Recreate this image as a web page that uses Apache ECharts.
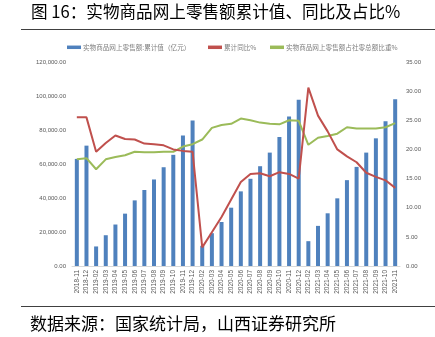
<!DOCTYPE html>
<html>
<head>
<meta charset="utf-8">
<script src="https://cdn.jsdelivr.net/npm/echarts@6/dist/echarts.min.js"></script>
<style>
html,body{margin:0;padding:0;background:#fff;}
#c{width:435px;height:337px;}
</style>
</head>
<body>
<div id="c"></div>
<script>
const categories = ['2018-11','2018-12','2019-02','2019-03','2019-04','2019-05','2019-06','2019-07','2019-08','2019-09','2019-10','2019-11','2019-12','2020-02','2020-03','2020-04','2020-05','2020-06','2020-07','2020-08','2020-09','2020-10','2020-11','2020-12','2021-02','2021-03','2021-04','2021-05','2021-06','2021-07','2021-08','2021-09','2021-10','2021-11'];
const cumulativeValue = [63000,70800,11500,18100,24400,30800,38600,44700,50900,58100,65400,76700,85600,11900,19300,25900,34300,43900,51300,58700,66700,75900,88000,97800,14600,23600,31000,39800,50500,58300,66700,75100,85100,98100];
const yoyGrowth = [25.5,25.5,19.6,21.1,22.4,21.8,21.7,21.0,20.9,20.7,20.0,19.75,19.6,3.2,5.8,8.4,11.4,14.4,15.8,15.9,15.4,16.1,15.8,15.0,30.6,25.8,23.1,20.0,18.8,17.8,16.0,15.3,14.7,13.4];
const shareOfRetail = [18.3,18.5,16.6,18.3,18.7,19.0,19.6,19.5,19.5,19.6,19.6,20.5,20.9,21.7,23.7,24.2,24.4,25.3,25.0,24.6,24.4,24.3,25.0,24.9,20.8,22.0,22.3,22.7,23.8,23.6,23.6,23.6,23.8,24.5];
const leftTicks = [0,20000,40000,60000,80000,100000,120000];
const rightTicks = [0,5,10,15,20,25,30,35];
const seriesNames = ['实物商品网上零售额:累计值（亿元）','累计同比%','实物商品网上零售额占社零总额比重%'];
const titleText = '图 16：实物商品网上零售额累计值、同比及占比%';
const sourceText = '数据来源：国家统计局，山西证券研究所';

const chart = echarts.init(document.getElementById('c'), null, {renderer:'canvas'});
const axisFont = {color:'#595959', fontSize:6, fontFamily:'Liberation Sans'};
const legendBase = {
  orient:'horizontal', top:39, itemWidth:14, itemHeight:3.5, itemGap:4,
  icon:'rect', selectedMode:false,
  textStyle:{color:'#7f7f7f', fontSize:6.6, fontFamily:'Noto Sans CJK SC', padding:[0,0,0,-3]}
};
chart.setOption({
  animation:false,
  backgroundColor:'#fff',
  graphic:[
    {type:'text', left:31, top:3, style:{text:titleText, fontSize:16.6, fontFamily:'Noto Sans CJK SC', fill:'#000'}},
    {type:'line', shape:{x1:21, y1:29.5, x2:435, y2:29.5}, style:{stroke:'#404040', lineWidth:1.2}},
    {type:'line', shape:{x1:21, y1:306.5, x2:435, y2:306.5}, style:{stroke:'#404040', lineWidth:1.2}},
    {type:'text', left:30, top:315, style:{text:sourceText, fontSize:17, fontFamily:'Noto Sans CJK SC', fill:'#000'}}
  ],
  legend:[
    Object.assign({}, legendBase, {left:62, data:[seriesNames[0]]}),
    Object.assign({}, legendBase, {left:203, data:[seriesNames[1]]}),
    Object.assign({}, legendBase, {left:265, data:[seriesNames[2]]})
  ],
  grid:{left:72, right:35, top:62, bottom:71, containLabel:false},
  xAxis:{
    type:'category', data:categories, boundaryGap:true,
    axisLine:{lineStyle:{color:'#D9D9D9'}},
    axisTick:{show:false},
    axisLabel:Object.assign({}, axisFont, {rotate:90, interval:0, fontSize:6.5, margin:4})
  },
  yAxis:[
    {type:'value', min:leftTicks[0], max:leftTicks[leftTicks.length-1], interval:leftTicks[1]-leftTicks[0],
     splitLine:{show:false}, axisLine:{show:false}, axisTick:{show:false},
     axisLabel:Object.assign({}, axisFont, {margin:6, formatter:v=>v.toLocaleString('en-US',{minimumFractionDigits:2, maximumFractionDigits:2})})},
    {type:'value', min:rightTicks[0], max:rightTicks[rightTicks.length-1], interval:rightTicks[1]-rightTicks[0],
     splitLine:{show:false}, axisLine:{show:false}, axisTick:{show:false},
     axisLabel:Object.assign({}, axisFont, {margin:6, formatter:v=>v.toFixed(2)})}
  ],
  series:[
    {name:seriesNames[0], type:'bar', data:cumulativeValue, barWidth:4, itemStyle:{color:'#4F81BD'}, z:1},
    {name:seriesNames[1], type:'line', yAxisIndex:1, data:yoyGrowth, symbol:'none', lineStyle:{color:'#C0504D', width:2}, itemStyle:{color:'#C0504D'}, z:3},
    {name:seriesNames[2], type:'line', yAxisIndex:1, data:shareOfRetail, symbol:'none', lineStyle:{color:'#9BBB59', width:2}, itemStyle:{color:'#9BBB59'}, z:2}
  ]
});
</script>
</body>
</html>
